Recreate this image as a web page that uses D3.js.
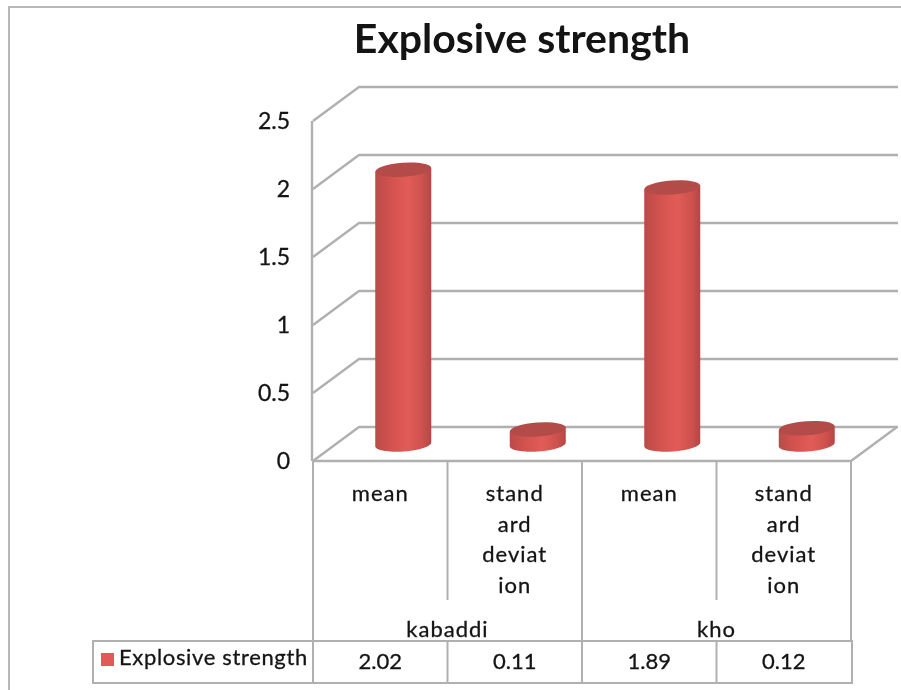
<!DOCTYPE html>
<html>
<head>
<meta charset="utf-8">
<script src="https://cdn.jsdelivr.net/npm/d3@7"></script>
<style>
    html, body { margin: 0; padding: 0; background: #ffffff; }
    text { font-family: Lato, "Open Sans", sans-serif; fill: #141414; }
    /* the source is a soft scan, keep the edges a bit soft too */
    svg { filter: blur(0.45px); }
</style>
</head>
<body>
<div id="chart"></div>
<script>
// 3D cylinder column chart with a data table under it

const title = "Explosive strength";
const seriesName = "Explosive strength";
const groups = ["kabaddi", "kho"];
const categories = ["mean", "standard deviation", "mean", "standard deviation"];
const categoryLines = [["mean"], ["stand", "ard", "deviat", "ion"], ["mean"], ["stand", "ard", "deviat", "ion"]];
const values = [2.02, 0.11, 1.89, 0.12];
const yTicks = [0, 0.5, 1, 1.5, 2, 2.5];

const width = 901, height = 690;
const plot = {left: 313, right: 851, floor: 461, top: 121};
const depth = {x: 46, y: -34};
const gridColor = "#b0b0b0";

const svg = d3.select("#chart")
    .append("svg")
    .attr("width", width)
    .attr("height", height)
    .style("display", "block");

// x positions come from the slots of the four categories
const x = d3.scaleBand()
    .domain(d3.range(values.length))
    .range([plot.left, plot.right]);

const y = d3.scaleLinear()
    .domain([0, 2.5])
    .range([plot.floor, plot.top]);

// bars stand in the middle of the floor, not on the front edge
const barShift = {x: 23, y: -16.5};
const barWidth = 56;

// shading across the cylinder
const defs = svg.append("defs");
const grad = defs.append("linearGradient").attr("id", "cyl");
grad.append("stop").attr("offset", "0%").attr("stop-color", "#bb4a48");
grad.append("stop").attr("offset", "30%").attr("stop-color", "#d4534f");
grad.append("stop").attr("offset", "58%").attr("stop-color", "#e25c57");
grad.append("stop").attr("offset", "85%").attr("stop-color", "#cc514e");
grad.append("stop").attr("offset", "100%").attr("stop-color", "#b34745");

// outer frame of the chart area
svg.append("path")
    .attr("d", `M9,${height}V7H${width}`)
    .attr("fill", "none")
    .attr("stroke", "#b8b8b8")
    .attr("stroke-width", 2);

svg.append("text")
    .attr("x", 522)
    .attr("y", 53)
    .attr("text-anchor", "middle")
    .style("font-size", "41px")
    .style("font-weight", "700")
    .text(title);

// side wall and back wall gridlines
const grid = svg.append("g")
    .attr("fill", "none")
    .attr("stroke", gridColor)
    .attr("stroke-width", 2.4);

grid.selectAll("path.gridline")
    .data(yTicks)
    .enter().append("path")
    .attr("class", "gridline")
    .attr("d", d => `M${plot.left},${y(d)}L${plot.left + depth.x},${y(d) + depth.y}H${plot.right + depth.x + 1}`);

// left wall vertical
grid.append("path")
    .attr("d", `M${plot.left - 1},${y(2.5)}V${y(0)}`);

// floor front edge and right side
grid.append("path")
    .attr("d", `M${plot.left},${plot.floor}H${plot.right}L${plot.right + depth.x},${plot.floor + depth.y}`);

// y axis labels
const yAxis = d3.axisLeft(y)
    .tickValues(yTicks)
    .tickSize(0)
    .tickPadding(0)
    .tickFormat(d3.format("~g"));

svg.append("g")
    .attr("transform", `translate(${plot.left - 23},0)`)
    .call(yAxis)
    .call(g => g.select(".domain").remove())
    .selectAll("text")
    .attr("dy", "0.32em")
    .style("font-size", "23px")
    .style("stroke", "#141414")
    .style("stroke-width", "0.3px");

// cylinders
const bars = svg.append("g").selectAll("g")
    .data(values)
    .enter().append("g")
    .attr("transform", (d, i) => `translate(${x(i) + x.bandwidth() / 2 + barShift.x},0)`);

const rx = barWidth / 2, ry = 7, tilt = -4;

bars.append("path")
    .attr("fill", "url(#cyl)")
    .attr("d", d => {
        const topY = y(d) + barShift.y;
        const baseY = y(0) + barShift.y;
        const dy = rx * Math.sin(tilt * Math.PI / 180);
        return `M${-rx},${topY - dy}L${rx},${topY + dy}`
            + `L${rx},${baseY + dy}A${rx},${ry} ${tilt} 0 1 ${-rx},${baseY - dy}Z`;
    });

bars.append("ellipse")
    .attr("rx", rx)
    .attr("ry", ry)
    .attr("fill", "#b34b49")
    .attr("transform", d => `translate(0,${y(d) + barShift.y}) rotate(${tilt})`);

// category slots under the floor
const lines = svg.append("g")
    .attr("fill", "none")
    .attr("stroke", gridColor)
    .attr("stroke-width", 2);

// long dividers go down to the table, the inner ones stop above the group labels
[0, 2, 4].forEach(i => {
    const px = i < 4 ? x(i) : plot.right;
    lines.append("path").attr("d", `M${px},${plot.floor}V641`);
});
[1, 3].forEach(i => {
    lines.append("path").attr("d", `M${x(i)},${plot.floor}V600`);
});

// table under the chart
lines.append("rect")
    .attr("x", 93)
    .attr("y", 641)
    .attr("width", plot.right + 1 - 93)
    .attr("height", 42);

d3.range(values.length).forEach(i => {
    lines.append("path").attr("d", `M${x(i)},641V683`);
});

const textWeight = sel => sel
    .style("stroke", "#141414")
    .style("stroke-width", "0.3px");

const catLabels = svg.append("g").selectAll("text")
    .data(categoryLines)
    .enter().append("text")
    .attr("text-anchor", "middle")
    .attr("y", 501)
    .style("font-size", "22px")
    .style("letter-spacing", "1px")
    .call(textWeight);

catLabels.selectAll("tspan")
    .data((d, i) => d.map(t => ({t: t, i: i})))
    .enter().append("tspan")
    .attr("x", d => x(d.i) + x.bandwidth() / 2)
    .attr("dy", (d, j) => j === 0 ? 0 : 30.5)
    .text(d => d.t);

svg.append("g").selectAll("text")
    .data(groups)
    .enter().append("text")
    .attr("text-anchor", "middle")
    .attr("x", (d, i) => x(i * 2 + 1))
    .attr("y", 637)
    .style("font-size", "22px")
    .style("letter-spacing", "1px")
    .call(textWeight)
    .text(d => d);

// legend cell and values
svg.append("rect")
    .attr("x", 101)
    .attr("y", 653)
    .attr("width", 13)
    .attr("height", 13)
    .attr("fill", "#e05a57");

svg.append("text")
    .attr("x", 119)
    .attr("y", 665)
    .style("font-size", "22px")
    .style("letter-spacing", "0.65px")
    .call(textWeight)
    .text(seriesName);

svg.append("g").selectAll("text")
    .data(values)
    .enter().append("text")
    .attr("text-anchor", "middle")
    .attr("x", (d, i) => x(i) + x.bandwidth() / 2)
    .attr("y", 669)
    .style("font-size", "22px")
    .call(textWeight)
    .text(d => d);
</script>
</body>
</html>
